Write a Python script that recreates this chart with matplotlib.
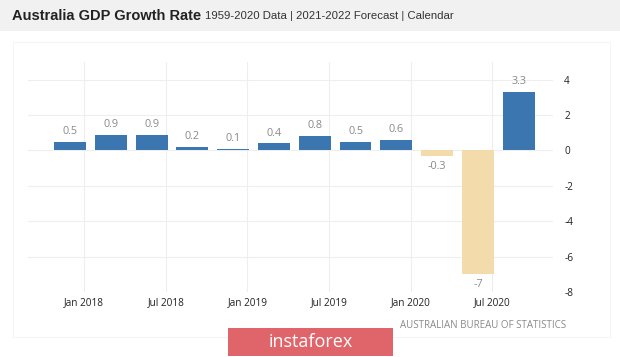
import matplotlib
matplotlib.use("Agg")
import matplotlib.pyplot as plt
from matplotlib.patches import Rectangle

# Data
quarters = ["Q4 2017", "Q1 2018", "Q2 2018", "Q3 2018", "Q4 2018", "Q1 2019",
            "Q2 2019", "Q3 2019", "Q4 2019", "Q1 2020", "Q2 2020", "Q3 2020"]
values = [0.5, 0.9, 0.9, 0.2, 0.1, 0.4, 0.8, 0.5, 0.6, -0.3, -7, 3.3]
tick_labels = ["Jan 2018", "Jul 2018", "Jan 2019", "Jul 2019", "Jan 2020", "Jul 2020"]
y_ticks = [4, 2, 0, -2, -4, -6, -8]

W, H = 620, 357
fig = plt.figure(figsize=(W / 100, H / 100), dpi=100)
fig.patch.set_facecolor("white")

def fx(px):
    return px / W

def fy(py):
    return 1 - py / H

# Title band
fig.patches.append(Rectangle((0, fy(31)), 1, 1 - fy(31), transform=fig.transFigure,
                             facecolor="#f1f1f1", edgecolor="none", zorder=0))
fig.text(fx(12), fy(16), "Australia GDP Growth Rate", fontsize=10.5, fontweight="bold",
         family="Liberation Sans", color="#222222", va="center", ha="left")
fig.text(fx(205), fy(16), "1959-2020 Data | 2021-2022 Forecast | Calendar", fontsize=8.2,
         family="Liberation Sans", color="#333333", va="center", ha="left")

# Card outline
fig.patches.append(Rectangle((fx(13), fy(337)), fx(610) - fx(13), fy(42) - fy(337),
                             transform=fig.transFigure, facecolor="none",
                             edgecolor="#f4f4f4", linewidth=0.8, zorder=0))

ax = fig.add_axes([fx(28), fy(292), fx(553) - fx(28), fy(62) - fy(292)])
x = list(range(len(values)))
colors = ["#3b76b1" if v >= 0 else "#f3dbac" for v in values]
ax.bar(x, values, width=0.78, color=colors, zorder=3)

for xi, v in zip(x, values):
    label = f"{v:g}"
    if v >= 0:
        ax.annotate(label, (xi, v), xytext=(0, 3.5), textcoords="offset points",
                    ha="center", va="bottom", fontsize=7.8, color="#8a8a8a",
                    family="Open Sans")
    else:
        ax.annotate(label, (xi, v), xytext=(0, -3.5), textcoords="offset points",
                    ha="center", va="top", fontsize=7.8, color="#8a8a8a",
                    family="Open Sans")

ax.set_xlim(-1.03, 11.84)
ax.set_ylim(-8, 5)
tick_pos = [0.35 + 2 * i for i in range(len(tick_labels))]
ax.set_xticks(tick_pos)
ax.set_xticklabels(tick_labels, fontsize=7.2, color="#222222", family="Open Sans")
ax.set_yticks(y_ticks)
ax.set_yticklabels([f"{t:g}" for t in y_ticks], fontsize=7.2, color="#222222", family="Open Sans")
ax.yaxis.tick_right()
ax.tick_params(axis="both", length=0)
ax.tick_params(axis="y", pad=8)
ax.tick_params(axis="x", pad=4)
ax.grid(True, color="#eeeeee", linewidth=0.8, zorder=0)
for s in ax.spines.values():
    s.set_visible(False)
ax.set_facecolor("none")

fig.text(fx(566), fy(325), "AUSTRALIAN BUREAU OF STATISTICS", fontsize=7, color="#8a8a8a",
         family="Open Sans", ha="right", va="center")

# Watermark box
fig.patches.append(Rectangle((fx(228), fy(356)), fx(393) - fx(228), fy(328) - fy(356),
                             transform=fig.transFigure, facecolor="#e0656a",
                             edgecolor="none", zorder=2))
fig.text((fx(228) + fx(393)) / 2, fy(342), "instaforex", fontsize=13, color="white",
         family="Open Sans", ha="center", va="center", zorder=3)

fig.savefig("out.png", dpi=100)
